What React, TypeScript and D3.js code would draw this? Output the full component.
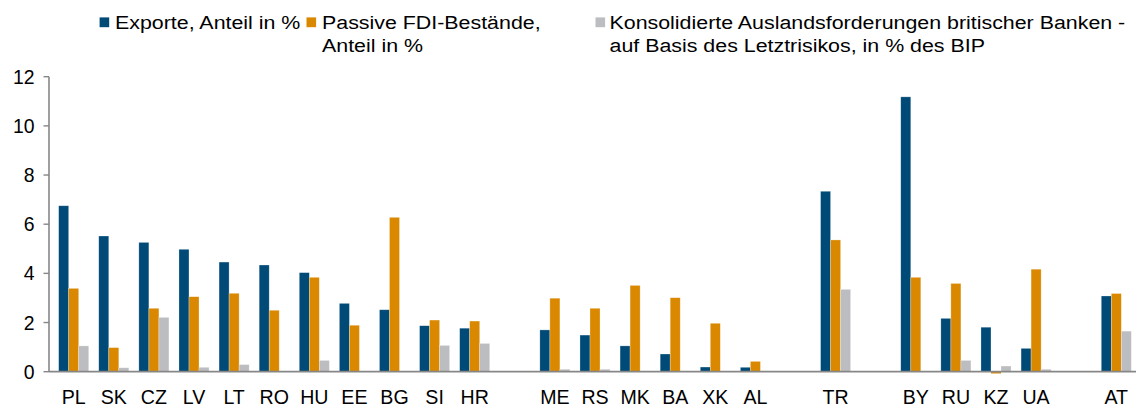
import React from "react";
import * as d3 from "d3";

const categories = ["PL","SK","CZ","LV","LT","RO","HU","EE","BG","SI","HR","","ME","RS","MK","BA","XK","AL","","TR","","BY","RU","KZ","UA","","AT"];
const exportsShare = [6.75,5.52,5.26,4.98,4.46,4.34,4.03,2.78,2.52,1.87,1.77,null,1.70,1.49,1.05,0.72,0.19,0.18,null,7.34,null,11.18,2.17,1.81,0.95,null,3.08];
const fdiShare = [3.39,0.98,2.58,3.05,3.19,2.50,3.84,1.89,6.28,2.10,2.06,null,2.99,2.58,3.51,3.01,1.97,0.42,null,5.36,null,3.84,3.59,-0.08,4.17,null,3.18];
const bankClaims = [1.05,0.16,2.21,0.18,0.29,0,0.46,0,0,1.07,1.15,null,0.10,0.10,0,0,0,0.03,null,3.35,null,0,0.46,0.23,0.10,null,1.65];
const yTicks = [0,2,4,6,8,10,12];
const seriesNames = ["Exporte, Anteil in %","Passive FDI-Bestände, Anteil in %","Konsolidierte Auslandsforderungen britischer Banken - auf Basis des Letztrisikos, in % des BIP"];

const COLORS = ["#004A77", "#D98800", "#BCBDC0"];
const W = 1136, H = 407;
const AXIS = "#878787";
const FONT = "'Liberation Sans', Arial, sans-serif";

export default function App() {
  const series = [exportsShare, fdiShare, bankClaims];
  const x = d3.scaleBand<number>()
    .domain(categories.map((_, i) => i))
    .range([53.65, 1136.35])
    .paddingInner(0.25)
    .paddingOuter(0.125);
  const xs = d3.scaleBand<number>().domain([0, 1, 2]).range([0, x.bandwidth()]);
  const y = d3.scaleLinear().domain([0, 12]).range([371.7, 76.7]);
  const axisX = 49;

  const legend = [
    { sx: 99.6, tx: 115, lines: ["Exporte, Anteil in %"] },
    { sx: 306.5, tx: 322, lines: ["Passive FDI-Bestände,", "Anteil in %"] },
    { sx: 595.5, tx: 609.5, lines: ["Konsolidierte Auslandsforderungen britischer Banken -", "auf Basis des Letztrisikos, in % des BIP"] },
  ];

  return (
    <div style={{ position: "fixed", left: 0, top: 0 }}>
      <svg width={W} height={H} style={{ display: "block", background: "#fff" }} fontFamily={FONT}>
        {legend.map((l, i) => (
          <g key={i}>
            <rect x={l.sx} y={17.4} width={9.6} height={9.8} fill={COLORS[i]} />
            {l.lines.map((t, j) => (
              <text key={j} transform={`translate(${l.tx},${29 + j * 23.3}) scale(1.15,1)`} fontSize={18.6} fill="#000">{t}</text>
            ))}
          </g>
        ))}

        {series.map((vals, s) => (
          <g key={s}>
            {vals.map((v, i) => {
              if (v === null || v === 0) return null;
              const x0 = (x(i) as number) + (xs(s) as number);
              const y0 = y(Math.max(0, v));
              const h = Math.abs(y(v) - y(0));
              return <rect key={i} x={x0} y={y0} width={xs.bandwidth()} height={h} fill={COLORS[s]} stroke="#ffffff" strokeOpacity={0.45} strokeWidth={0.6} />;
            })}
          </g>
        ))}

        <line x1={axisX} x2={axisX} y1={y(12)} y2={y(0)} stroke={AXIS} strokeWidth={1.6} />
        {yTicks.map((t) => (
          <g key={t}>
            <line x1={axisX - 5.5} x2={axisX} y1={y(t)} y2={y(t)} stroke={AXIS} strokeWidth={1.4} />
            <text x={34.5} y={y(t)} dy="0.36em" textAnchor="end" fontSize={19.4} fill="#000">{t}</text>
          </g>
        ))}
        <line x1={axisX} x2={1136} y1={y(0)} y2={y(0)} stroke={AXIS} strokeWidth={1.8} />

        {categories.map((c, i) => c ? (
          <text key={i} x={(x(i) as number) + x.bandwidth() / 2} y={403.5} textAnchor="middle" fontSize={19.6} fill="#000">{c}</text>
        ) : null)}
      </svg>
    </div>
  );
}
